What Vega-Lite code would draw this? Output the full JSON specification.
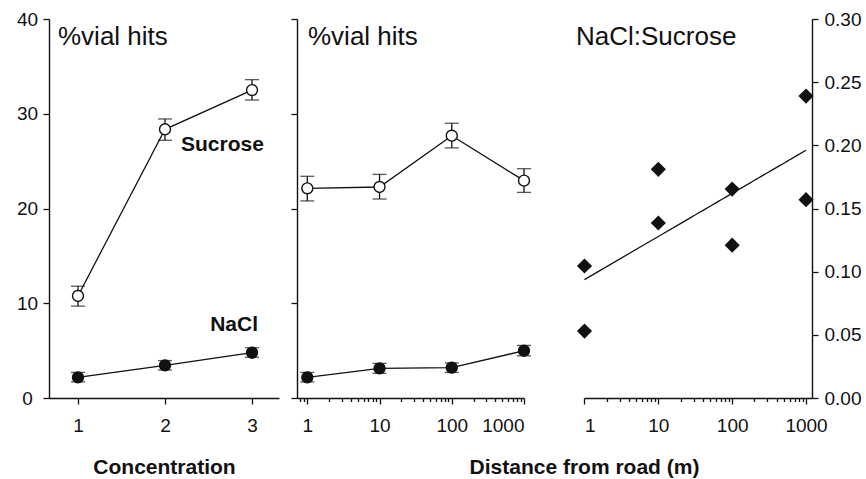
{
  "$schema": "https://vega.github.io/schema/vega-lite/v6.json",
  "background": "white",
  "padding": {"left": 16, "top": 10, "right": 5, "bottom": 5},
  "spacing": 18,
  "bounds": "flush",
  "config": {
    "view": {"stroke": null},
    "font": "Liberation Sans",
    "title": {"anchor": "start", "frame": "group", "fontSize": 26, "fontWeight": "normal", "color": "#111", "font": "Liberation Sans", "baseline": "alphabetic"},
    "axis": {
      "grid": false,
      "domainColor": "#111",
      "domainWidth": 1.4,
      "tickColor": "#111",
      "tickWidth": 1.3,
      "labelColor": "#111",
      "titleColor": "#111",
      "labelFont": "Liberation Sans",
      "titleFont": "Liberation Sans",
      "labelFontSize": 19,
      "labelFontWeight": "normal"
    }
  },
  "datasets": {
    "conc": [
      {"conc": 1, "solution": "Sucrose", "pct": 10.77, "lo": 9.7, "hi": 11.8},
      {"conc": 2, "solution": "Sucrose", "pct": 28.36, "lo": 27.2, "hi": 29.45},
      {"conc": 3, "solution": "Sucrose", "pct": 32.5, "lo": 31.45, "hi": 33.6},
      {"conc": 1, "solution": "NaCl", "pct": 2.18, "lo": 1.7, "hi": 2.7},
      {"conc": 2, "solution": "NaCl", "pct": 3.45, "lo": 2.95, "hi": 3.95},
      {"conc": 3, "solution": "NaCl", "pct": 4.78, "lo": 4.3, "hi": 5.3}
    ],
    "dist": [
      {"dist": 1, "solution": "Sucrose", "pct": 22.13, "lo": 20.8, "hi": 23.4},
      {"dist": 10, "solution": "Sucrose", "pct": 22.27, "lo": 21.0, "hi": 23.6},
      {"dist": 100, "solution": "Sucrose", "pct": 27.68, "lo": 26.4, "hi": 29.0},
      {"dist": 1000, "solution": "Sucrose", "pct": 22.94, "lo": 21.7, "hi": 24.2},
      {"dist": 1, "solution": "NaCl", "pct": 2.18, "lo": 1.7, "hi": 2.7},
      {"dist": 10, "solution": "NaCl", "pct": 3.13, "lo": 2.6, "hi": 3.65},
      {"dist": 100, "solution": "NaCl", "pct": 3.2, "lo": 2.7, "hi": 3.7},
      {"dist": 1000, "solution": "NaCl", "pct": 4.99, "lo": 4.45, "hi": 5.55}
    ],
    "ratio": [
      {"dist": 1, "ratio": 0.1045},
      {"dist": 1, "ratio": 0.053},
      {"dist": 10, "ratio": 0.181},
      {"dist": 10, "ratio": 0.1385},
      {"dist": 100, "ratio": 0.1654},
      {"dist": 100, "ratio": 0.121},
      {"dist": 1000, "ratio": 0.239},
      {"dist": 1000, "ratio": 0.157}
    ]
  },
  "hconcat": [
    {
      "width": 230,
      "height": 379,
      "title": {"text": "%vial hits", "offset": -40, "dx": 9},
      "data": {"name": "conc"},
      "encoding": {
        "x": {
          "field": "conc", "type": "quantitative",
          "scale": {"domain": [0.667, 3.31], "nice": false, "zero": false},
          "axis": {
            "values": [1, 2, 3], "tickSize": 6, "labelPadding": 12,
            "title": "Concentration", "titleFontSize": 21, "titleFontWeight": "bold",
            "titleX": 115, "titleY": 75, "titleBaseline": "alphabetic", "titleAlign": "center"
          }
        },
        "y": {
          "field": "pct", "type": "quantitative",
          "scale": {"domain": [0, 40], "nice": false},
          "axis": {"values": [0, 10, 20, 30, 40], "tickSize": 6, "labelPadding": 16, "labelAlign": "center", "title": null}
        }
      },
      "layer": [
        {"mark": {"type": "line", "color": "#111", "strokeWidth": 1.3}, "encoding": {"detail": {"field": "solution"}}},
        {"mark": {"type": "rule", "color": "#111", "strokeWidth": 1.3}, "encoding": {"y": {"field": "lo", "type": "quantitative"}, "y2": {"field": "hi"}}},
        {"mark": {"type": "tick", "orient": "horizontal", "color": "#111", "size": 14, "thickness": 1.3}, "encoding": {"y": {"field": "lo", "type": "quantitative"}}},
        {"mark": {"type": "tick", "orient": "horizontal", "color": "#111", "size": 14, "thickness": 1.3}, "encoding": {"y": {"field": "hi", "type": "quantitative"}}},
        {
          "mark": {"type": "point", "shape": "circle", "filled": true, "size": 120, "stroke": "#111", "strokeWidth": 1.4, "opacity": 1},
          "encoding": {"fill": {"field": "solution", "type": "nominal", "scale": {"domain": ["NaCl", "Sucrose"], "range": ["#111", "white"]}, "legend": null}}
        },
        {
          "transform": [{"filter": "datum.solution == 'Sucrose' && datum.conc == 2"}],
          "mark": {"type": "text", "fontSize": 21, "fontWeight": "bold", "align": "left", "baseline": "middle", "color": "#111", "dx": 16, "dy": 16},
          "encoding": {"text": {"field": "solution"}}
        },
        {
          "transform": [{"filter": "datum.solution == 'NaCl' && datum.conc == 3"}],
          "mark": {"type": "text", "fontSize": 21, "fontWeight": "bold", "align": "right", "baseline": "middle", "color": "#111", "dx": 6, "dy": -28},
          "encoding": {"text": {"field": "solution"}}
        }
      ]
    },
    {
      "width": 227,
      "height": 379,
      "title": {"text": "%vial hits", "offset": -32, "dx": 11},
      "data": {"name": "dist"},
      "resolve": {"axis": {"x": "independent"}},
      "layer": [
        {
          "encoding": {
            "x": {
              "field": "dist", "type": "quantitative",
              "scale": {"type": "log", "domain": [0.72, 1000], "nice": false},
              "axis": {
                "orient": "bottom",
                "values": [1, 10, 100, 1000], "format": "d", "tickSize": 6, "labelPadding": 12,
                "title": "Distance from road (m)", "titleFontSize": 21, "titleFontWeight": "bold",
                "titleX": 287, "titleY": 75, "titleBaseline": "alphabetic", "titleAlign": "center"
              }
            },
            "y": {
              "field": "pct", "type": "quantitative",
              "scale": {"domain": [0, 40], "nice": false},
              "axis": {"values": [0, 10, 20, 30, 40], "tickSize": 6, "labels": false, "title": null}
            }
          },
          "layer": [
            {"mark": {"type": "line", "color": "#111", "strokeWidth": 1.3}, "encoding": {"detail": {"field": "solution"}}},
            {"mark": {"type": "rule", "color": "#111", "strokeWidth": 1.3}, "encoding": {"y": {"field": "lo", "type": "quantitative"}, "y2": {"field": "hi"}}},
            {"mark": {"type": "tick", "orient": "horizontal", "color": "#111", "size": 14, "thickness": 1.3}, "encoding": {"y": {"field": "lo", "type": "quantitative"}}},
            {"mark": {"type": "tick", "orient": "horizontal", "color": "#111", "size": 14, "thickness": 1.3}, "encoding": {"y": {"field": "hi", "type": "quantitative"}}},
            {
              "mark": {"type": "point", "shape": "circle", "filled": true, "size": 120, "stroke": "#111", "strokeWidth": 1.4, "opacity": 1},
              "encoding": {"fill": {"field": "solution", "type": "nominal", "scale": {"domain": ["NaCl", "Sucrose"], "range": ["#111", "white"]}, "legend": null}}
            }
          ]
        },
        {
          "mark": {"type": "tick", "opacity": 0},
          "encoding": {
            "x": {
              "field": "dist", "type": "quantitative",
              "scale": {"type": "log", "domain": [0.72, 1000], "nice": false},
              "axis": {
                "orient": "bottom", "domain": false, "labels": false, "title": null, "tickSize": 3.5,
                "values": [0.8, 0.9, 2, 3, 4, 5, 6, 7, 8, 9, 20, 30, 40, 50, 60, 70, 80, 90, 200, 300, 400, 500, 600, 700, 800, 900]
              }
            }
          }
        }
      ]
    },
    {
      "width": 24,
      "height": 379,
      "data": {"values": [{"blank": 0}]},
      "mark": {"type": "point", "opacity": 0}
    },
    {
      "width": 228,
      "height": 379,
      "title": {"text": "NaCl:Sucrose", "offset": -40, "dx": -8},
      "data": {"name": "ratio"},
      "resolve": {"axis": {"x": "independent"}},
      "layer": [
        {
          "encoding": {
            "x": {
              "field": "dist", "type": "quantitative",
              "scale": {"type": "log", "domain": [0.985, 1205], "nice": false},
              "axis": {"orient": "bottom", "values": [1, 10, 100, 1000], "format": "d", "tickSize": 6, "labelPadding": 12, "title": null}
            },
            "y": {
              "field": "ratio", "type": "quantitative",
              "scale": {"domain": [0, 0.3], "nice": false},
              "axis": {
                "orient": "right",
                "values": [0, 0.05, 0.1, 0.15, 0.2, 0.25, 0.3], "format": ".2f", "tickSize": 6, "labelPadding": 6, "title": null
              }
            }
          },
          "layer": [
            {
              "transform": [{"regression": "ratio", "on": "dist", "method": "log"}],
              "mark": {"type": "line", "color": "#111", "strokeWidth": 1.3}
            },
            {"mark": {"type": "point", "shape": "diamond", "filled": true, "size": 230, "color": "#111", "opacity": 1}}
          ]
        },
        {
          "mark": {"type": "tick", "opacity": 0},
          "encoding": {
            "x": {
              "field": "dist", "type": "quantitative",
              "scale": {"type": "log", "domain": [0.985, 1205], "nice": false},
              "axis": {
                "orient": "bottom", "domain": false, "labels": false, "title": null, "tickSize": 3.5,
                "values": [2, 3, 4, 5, 6, 7, 8, 9, 20, 30, 40, 50, 60, 70, 80, 90, 200, 300, 400, 500, 600, 700, 800, 900]
              }
            }
          }
        }
      ]
    }
  ]
}
